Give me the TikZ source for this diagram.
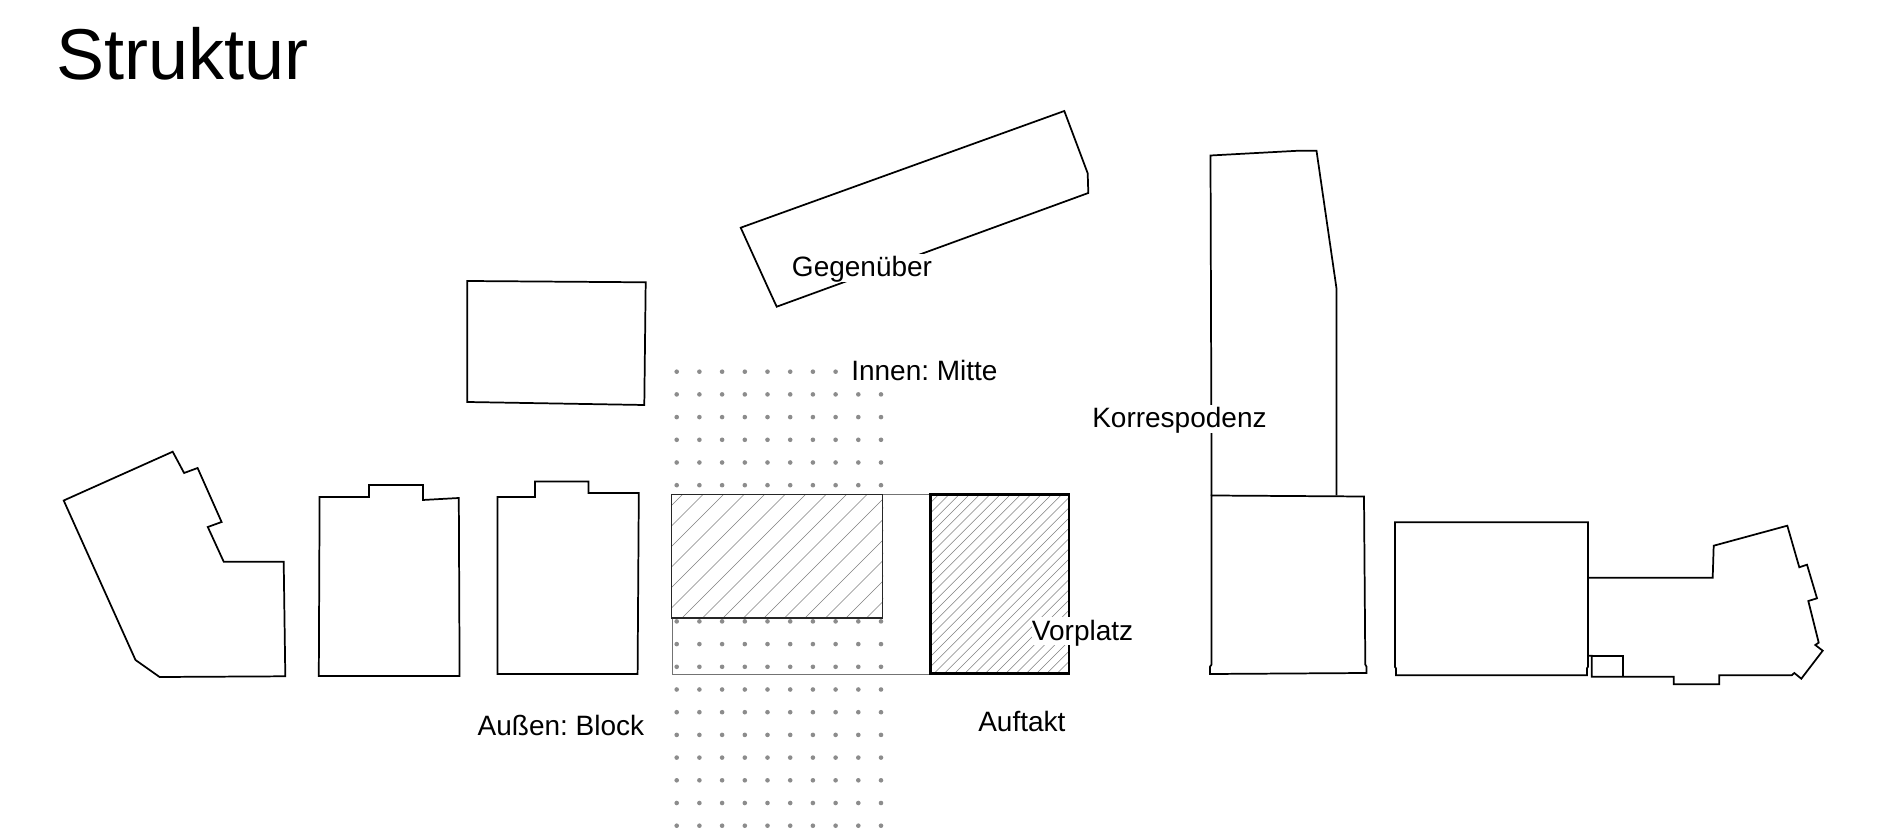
\documentclass[tikz,border=0pt]{standalone}
\usepackage{fontspec}
\setmainfont{Liberation Sans}
\frenchspacing
\tikzset{
  outline/.style={draw=black,line width=1.3pt,line join=miter},
  heavy/.style={draw=black,line width=2.1pt,line join=miter},
  medium/.style={draw=black!85,line width=1pt},
  thinbox/.style={draw=black!55,line width=0.75pt},
  hatchline/.style={draw=black!50,line width=0.4pt},
  griddot/.style={fill=black!45,draw=none},
  label/.style={anchor=base west,inner sep=0pt,fill=white,text height=17pt,text depth=3.8pt,font=\fontsize{21pt}{24pt}\selectfont},
  headline/.style={anchor=base west,inner sep=0pt,font=\fontsize{54pt}{60pt}\selectfont}
}
\begin{document}
\begin{tikzpicture}[x=0.75pt,y=-0.75pt]
\useasboundingbox (0,0) rectangle (1900,837);
\fill[white] (0,0) rectangle (1900,837);
% dot grid
\foreach \r in {0,...,20}{
  \foreach \c in {0,...,9}{
    \fill[griddot] ({676.7+22.7*\c},{371.7+22.7*\r}) circle (2.3);
  }
}
% thin frame
\draw[thinbox] (672.3,494.3) rectangle (930.5,674);
% hatched field
\fill[white] (671.7,494.3) rectangle (882.3,618);
\begin{scope}
  \clip (671.7,494.3) rectangle (882.3,618);
  \foreach \k in {-2,...,16}{
    \draw[hatchline] ({1197.6+20.5*\k-494},494) -- ({1197.6+20.5*\k-620},620);
  }
\end{scope}
\draw[medium] (671.7,494.3) rectangle (882.3,618);
% hatched forecourt
\fill[white] (930.7,494.3) rectangle (1069,673.7);
\begin{scope}
  \clip (930.7,494.3) rectangle (1069,673.7);
  \foreach \k in {21,...,54}{
    \draw[hatchline] ({1197.6+10.25*\k-494},494) -- ({1197.6+10.25*\k-675},675);
  }
\end{scope}
\draw[heavy] (930.7,494.3) rectangle (1069,673.7);
% left blocks
\draw[outline] (63.7,500.5) -- (172.7,451.7) -- (184.1,473) -- (197.6,468) -- (221.6,522) -- (207.8,527) -- (223.7,561.7) -- (283.7,561.7) -- (285.3,676.3) -- (159.6,677) -- (135.5,660) -- cycle;
\draw[outline] (319.6,497) -- (369,497) -- (369,485) -- (422.9,485) -- (422.9,500) -- (458.8,498) -- (459.6,676) -- (318.8,676) -- cycle;
\draw[outline] (497.6,497) -- (535.1,497) -- (535.1,481.5) -- (588.6,481.5) -- (588.6,493) -- (638.8,493) -- (637.6,674) -- (497.6,674) -- cycle;
\draw[outline] (467.3,281) -- (645.7,282.3) -- (644.3,405) -- (467.3,402) -- cycle;
% top slanted block
\draw[outline] (740.7,227.7) -- (1064.3,111) -- (1087.7,173.3) -- (1088.3,193) -- (776.7,306.7) -- (769,290) -- cycle;
% tall block
\draw[outline] (1211.6,495.5) -- (1210.5,155.5) -- (1299,150.7) -- (1316.5,150.7) -- (1336.5,288.5) -- (1336.5,495.5);
\draw[outline] (1211.6,495.5) -- (1364,496.5) -- (1365.3,664.5) -- (1366.5,666.7) -- (1366.5,673) -- (1210,674) -- (1210,666.7) -- (1211.6,664.5) -- cycle;
% right buildings
\draw[outline] (1395,522.3) -- (1588,522.3) -- (1588,666.7) -- (1587,668.3) -- (1587,675.3) -- (1396,675.3) -- (1396,668.3) -- (1395,667) -- cycle;
\draw[outline] (1588.3,577.7) -- (1712.7,577.7) -- (1713.7,545.7) -- (1787.3,525.7) -- (1799.3,567.3) -- (1807,564.7) -- (1817,598.3) -- (1808.3,601) -- (1818.7,642.7) -- (1815.3,645) -- (1822.7,650.7) -- (1801.3,678.7) -- (1794.3,673) -- (1791.7,675.3) -- (1719.3,675.3) -- (1719.3,684.3) -- (1673.7,684.3) -- (1673.7,676.7) -- (1591.7,676.7) -- (1591.7,655.7) -- (1589,655.7);
\draw[outline] (1591.7,655.7) -- (1622.7,655.7) -- (1622.7,676.7);
% labels
\node[headline] (title) at (56,79.5) {Struktur};
\node[label] (gegenueber) at (791.7,276.7) {Gegenüber};
\node[label] (innen) at (851,381) {Innen: Mitte};
\node[label] (korr) at (1092,428) {Korrespodenz};
\node[label] (vorplatz) at (1031.7,640) {Vorplatz};
\node[label] (auftakt) at (978,731.7) {Auftakt};
\node[label] (aussen) at (477.4,735) {Außen: Block};
\end{tikzpicture}
\end{document}
